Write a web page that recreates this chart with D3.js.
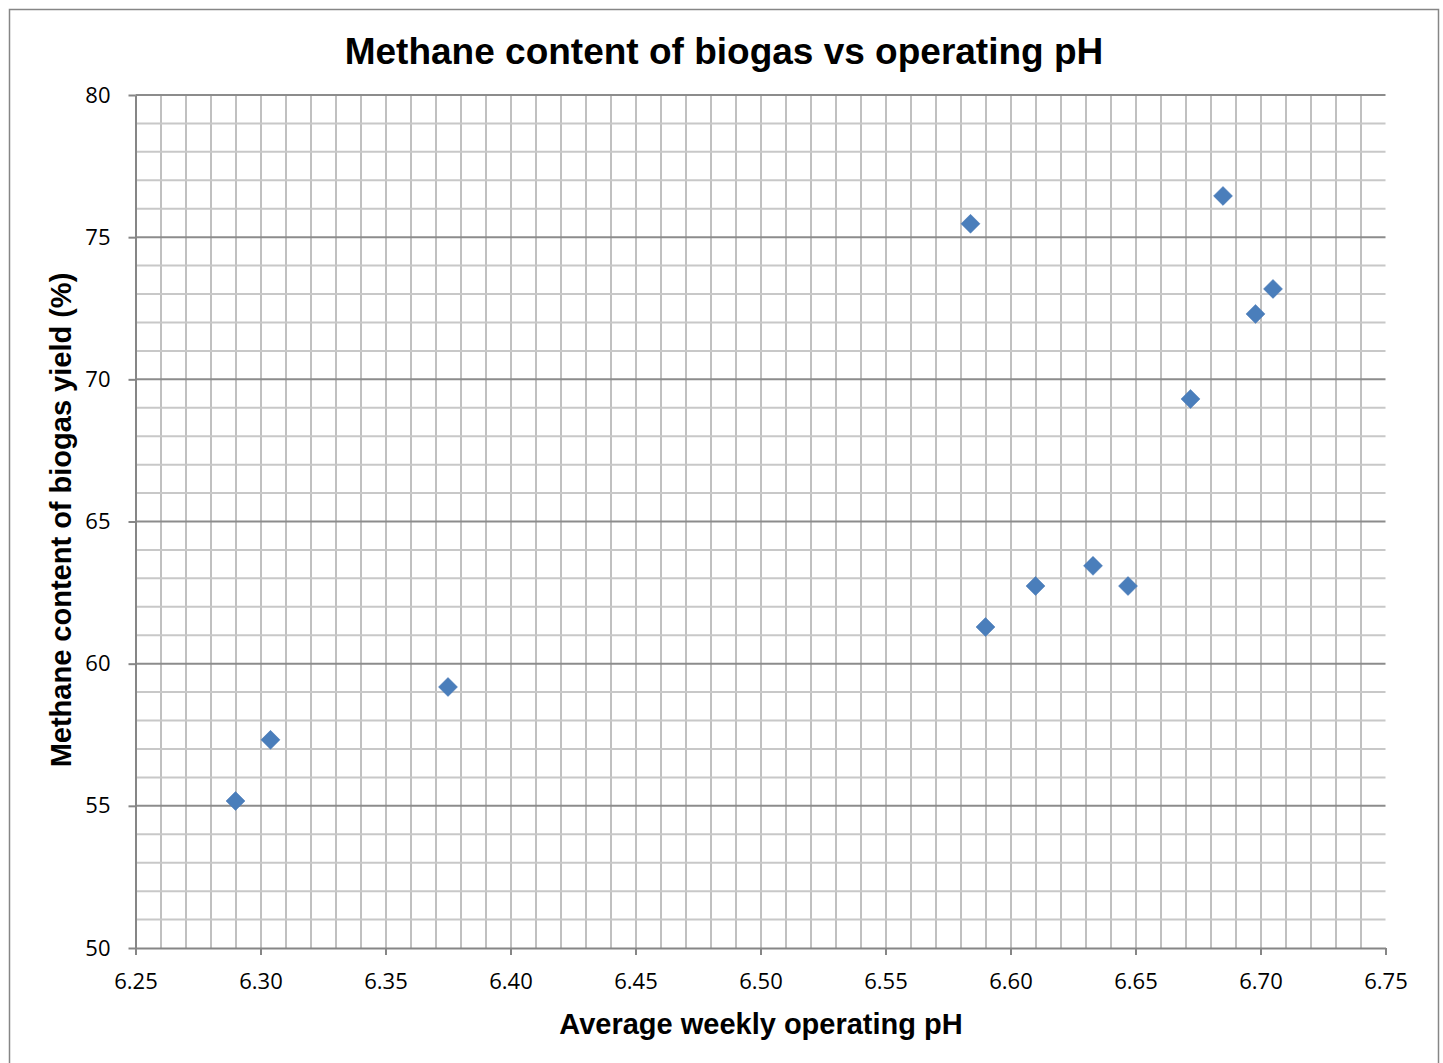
<!DOCTYPE html>
<html>
<head>
<meta charset="utf-8">
<script src="https://cdn.jsdelivr.net/npm/d3@7"></script>
<style>
  body { margin: 0; background: #fff; }
  svg { display: block; }
</style>
</head>
<body>
<div id="chart"></div>
<script>

// data
var phValues = [6.290, 6.304, 6.375, 6.584, 6.590, 6.610, 6.633, 6.647, 6.672, 6.685, 6.698, 6.705];
var methaneValues = [55.17, 57.32, 59.18, 75.47, 61.29, 62.73, 63.44, 62.73, 69.31, 76.45, 72.30, 73.18];
var xTicks = [6.25, 6.30, 6.35, 6.40, 6.45, 6.50, 6.55, 6.60, 6.65, 6.70, 6.75];
var yTicks = [50, 55, 60, 65, 70, 75, 80];

var width = 1443,
  height = 1063,
  margin = {top: 95, right: 58, bottom: 115, left: 135.5},
  innerWidth = 1385.5 - margin.left,
  innerHeight = 948 - margin.top;

var data = phValues.map(function(d, i) { return [d, methaneValues[i]]; });

var svg = d3.select("#chart").append("svg")
  .attr("width", width)
  .attr("height", height);

// outer chart border
svg.append("rect")
  .attr("x", 9.5).attr("y", 9.5)
  .attr("width", 1429).attr("height", 1060)
  .attr("fill", "#fff")
  .attr("stroke", "#868686")
  .attr("stroke-width", 1.5);

var g = svg.append("g")
  .attr("transform", "translate(" + margin.left + "," + margin.top + ")");

var xScale = d3.scaleLinear().domain([6.25, 6.75]).range([0, innerWidth]);
var yScale = d3.scaleLinear().domain([50, 80]).range([innerHeight, 0]);

// minor gridlines
var minorX = d3.range(1, 50).map(function(i) { return 6.25 + i * 0.01; });
var minorY = d3.range(51, 80);

g.append("g").attr("class", "grid minor-x")
  .selectAll("line").data(minorX).enter().append("line")
    .attr("x1", function(d) { return Math.round(xScale(d)) + 0.5; })
    .attr("x2", function(d) { return Math.round(xScale(d)) + 0.5; })
    .attr("y1", 0).attr("y2", innerHeight)
    .attr("stroke", "#c0c0c0").attr("stroke-width", 2);

g.append("g").attr("class", "grid minor-y")
  .selectAll("line").data(minorY.filter(function(d) { return d % 5 !== 0; })).enter().append("line")
    .attr("x1", 0).attr("x2", innerWidth)
    .attr("y1", function(d) { return yScale(d); })
    .attr("y2", function(d) { return yScale(d); })
    .attr("stroke", "#c8c8c8").attr("stroke-width", 2);

g.append("g").attr("class", "grid major-y")
  .selectAll("line").data(yTicks.filter(function(d) { return d !== 50; })).enter().append("line")
    .attr("x1", 0).attr("x2", innerWidth)
    .attr("y1", function(d) { return yScale(d); })
    .attr("y2", function(d) { return yScale(d); })
    .attr("stroke", "#8c8c8c").attr("stroke-width", 2);

// axes
var xAxis = g.append("g")
  .attr("class", "x axis")
  .attr("transform", "translate(0," + innerHeight + ")")
  .call(d3.axisBottom(xScale).tickValues(xTicks).tickFormat(d3.format(".2f")).tickSizeInner(7).tickSizeOuter(0).tickPadding(18));

var yAxis = g.append("g")
  .attr("class", "y axis")
  .call(d3.axisLeft(yScale).tickValues(yTicks).tickFormat(d3.format("d")).tickSizeInner(7).tickSizeOuter(0).tickPadding(18));

g.selectAll(".axis path, .axis line")
  .attr("stroke", "#868686")
  .attr("stroke-width", 2);

g.selectAll(".axis text")
  .attr("fill", "#000")
  .style("font-family", "'Open Sans', 'DejaVu Sans', sans-serif")
  .style("font-size", "22px");

// markers
g.selectAll(".point")
  .data(data)
  .enter().append("path")
    .attr("class", "point")
    .attr("d", d3.symbol().type(d3.symbolDiamond2).size(230))
    .attr("transform", function(d) {
      return "translate(" + xScale(d[0]) + "," + yScale(d[1]) + ")";
    })
    .attr("fill", "#4a7ebb")
    .attr("stroke", "#4677b4")
    .attr("stroke-width", 0.5);

// titles
svg.append("text")
  .attr("x", 724).attr("y", 64)
  .attr("text-anchor", "middle")
  .style("font-family", "'Liberation Sans', Arial, sans-serif")
  .style("font-weight", "bold")
  .style("font-size", "37px")
  .text("Methane content of biogas vs operating pH");

svg.append("text")
  .attr("x", 761).attr("y", 1034)
  .attr("text-anchor", "middle")
  .style("font-family", "'Liberation Sans', Arial, sans-serif")
  .style("font-weight", "bold")
  .style("font-size", "29px")
  .text("Average weekly operating pH");

svg.append("text")
  .attr("transform", "translate(71," + 520 + ") rotate(-90)")
  .attr("text-anchor", "middle")
  .style("font-family", "'Liberation Sans', Arial, sans-serif")
  .style("font-weight", "bold")
  .style("font-size", "29px")
  .text("Methane content of biogas yield (%)");

</script>
</body>
</html>
